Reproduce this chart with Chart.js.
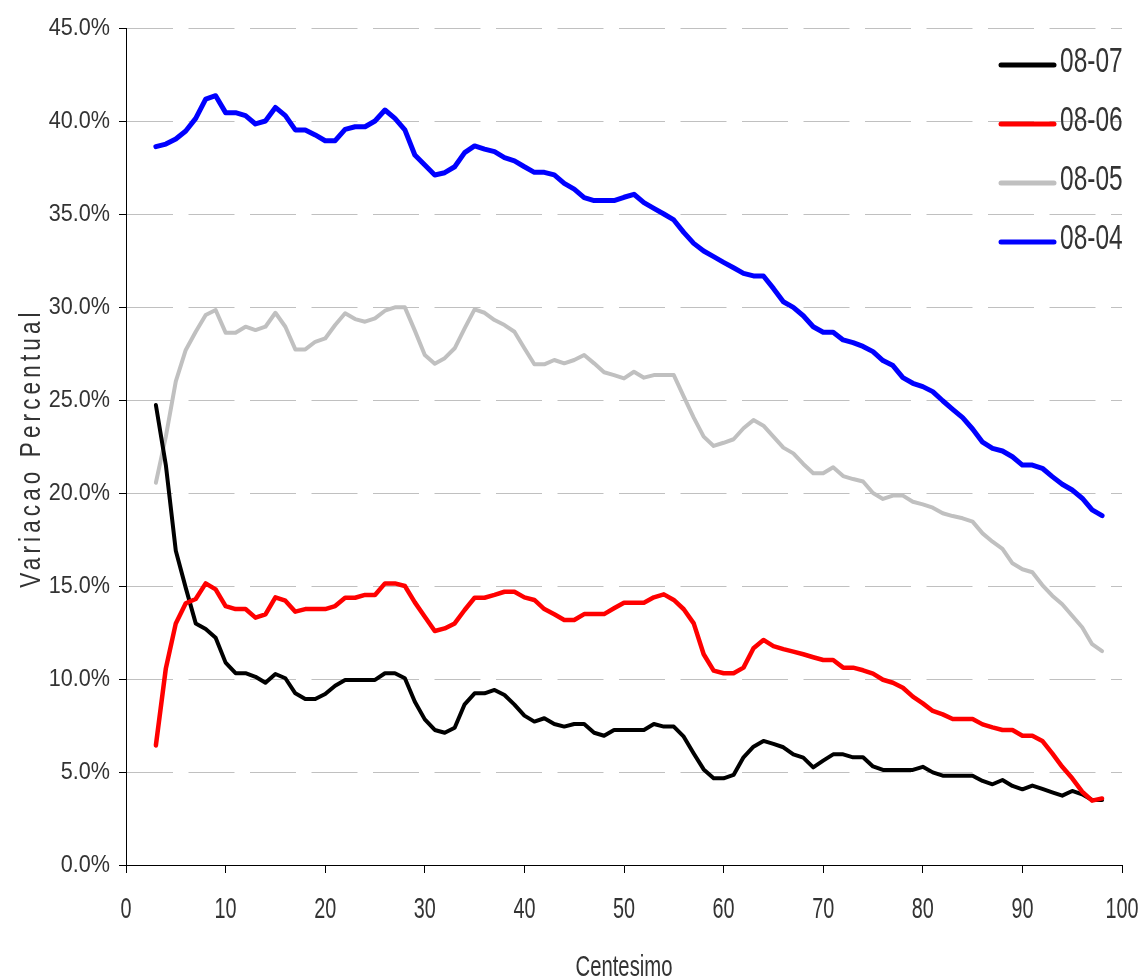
<!DOCTYPE html>
<html>
<head>
<meta charset="utf-8">
<script src="https://cdn.jsdelivr.net/npm/chart.js@4.4.1/dist/chart.umd.min.js"></script>
<style>
html,body{margin:0;padding:0;background:#ffffff;}
canvas{display:block;}
</style>
</head>
<body>
<canvas id="c" width="1144" height="980"></canvas>
<script>
// ---- data (values in %) ----
const centesimos = [3,4,5,6,7,8,9,10,11,12,13,14,15,16,17,18,19,20,21,22,23,24,25,26,27,28,29,30,31,32,33,34,35,36,37,38,39,40,41,42,43,44,45,46,47,48,49,50,51,52,53,54,55,56,57,58,59,60,61,62,63,64,65,66,67,68,69,70,71,72,73,74,75,76,77,78,79,80,81,82,83,84,85,86,87,88,89,90,91,92,93,94,95,96,97,98];

const serie0807 = [24.73,21.5,16.9,14.9,12.99,12.69,12.22,10.88,10.31,10.31,10.12,9.8,10.27,10.04,9.23,8.92,8.92,9.19,9.64,9.95,9.95,9.95,9.95,10.31,10.31,10.04,8.78,7.83,7.26,7.11,7.38,8.64,9.23,9.23,9.41,9.14,8.62,8.03,7.71,7.89,7.58,7.44,7.58,7.58,7.11,6.95,7.26,7.26,7.26,7.26,7.58,7.44,7.44,6.9,6.0,5.14,4.66,4.66,4.84,5.79,6.36,6.67,6.51,6.33,5.95,5.77,5.25,5.61,5.95,5.95,5.79,5.79,5.3,5.11,5.11,5.11,5.11,5.28,4.98,4.8,4.8,4.8,4.8,4.52,4.34,4.57,4.25,4.07,4.27,4.09,3.91,3.73,3.98,3.8,3.49,3.49];

const serie0806 = [6.43,10.57,12.99,14.07,14.3,15.14,14.82,13.92,13.76,13.76,13.3,13.48,14.39,14.21,13.62,13.76,13.76,13.76,13.92,14.37,14.37,14.52,14.52,15.14,15.14,15.0,14.12,13.35,12.58,12.72,12.99,13.71,14.37,14.37,14.52,14.69,14.69,14.39,14.25,13.76,13.48,13.17,13.17,13.49,13.49,13.49,13.8,14.1,14.1,14.1,14.39,14.55,14.25,13.75,12.99,11.33,10.45,10.31,10.31,10.61,11.65,12.1,11.77,11.61,11.47,11.33,11.17,11.02,11.02,10.61,10.61,10.47,10.29,9.96,9.8,9.53,9.05,8.69,8.28,8.1,7.85,7.85,7.85,7.56,7.4,7.26,7.26,6.95,6.95,6.67,6.0,5.28,4.66,3.94,3.46,3.58];

const serie0805 = [20.55,23.03,26.0,27.69,28.67,29.57,29.84,28.62,28.62,28.94,28.76,28.94,29.69,28.94,27.72,27.72,28.13,28.31,29.03,29.66,29.35,29.21,29.39,29.8,29.98,29.98,28.73,27.42,26.95,27.25,27.78,28.85,29.87,29.69,29.3,29.03,28.67,27.78,26.92,26.92,27.15,26.97,27.15,27.42,26.97,26.49,26.34,26.16,26.52,26.2,26.34,26.34,26.34,25.18,24.05,23.03,22.53,22.7,22.89,23.48,23.92,23.62,23.03,22.44,22.13,21.56,21.06,21.06,21.38,20.91,20.75,20.62,20.0,19.68,19.86,19.86,19.53,19.39,19.21,18.91,18.76,18.64,18.46,17.83,17.38,17.0,16.22,15.9,15.74,15.05,14.48,14.02,13.4,12.78,11.87,11.5];

const serie0804 = [38.62,38.76,39.03,39.46,40.14,41.18,41.36,40.45,40.45,40.29,39.84,40.0,40.73,40.29,39.52,39.52,39.25,38.94,38.94,39.55,39.69,39.69,40.0,40.59,40.14,39.52,38.17,37.63,37.1,37.22,37.54,38.3,38.66,38.49,38.35,38.03,37.86,37.54,37.24,37.24,37.1,36.65,36.34,35.88,35.72,35.72,35.72,35.9,36.06,35.61,35.3,35.0,34.68,34.01,33.42,33.01,32.71,32.4,32.11,31.81,31.67,31.67,31.0,30.28,29.98,29.53,28.94,28.64,28.64,28.23,28.08,27.88,27.6,27.12,26.85,26.2,25.9,25.72,25.45,24.96,24.5,24.05,23.44,22.73,22.4,22.26,21.95,21.5,21.5,21.33,20.88,20.47,20.16,19.72,19.09,18.78];

const seriesLabels = ['08-07','08-06','08-05','08-04'];
const xTickValues = [0,10,20,30,40,50,60,70,80,90,100];
const yTickValues = [0,5,10,15,20,25,30,35,40,45];
const xTitle = 'Centesimo';
const yTitle = 'Variacao Percentual';

// ---- styling ----
// font families carry a dummy marker "sqNN" = horizontal squash factor NN/100
const fam = n => "'Liberation Sans', sq" + n + ", Arial, sans-serif";
const TEXT = '#333333';
const styles = {
  '08-07': {color:'#000000', width:4,   order:1},
  '08-06': {color:'#ff0000', width:4.5, order:0},
  '08-05': {color:'#c0c0c0', width:4,   order:2},
  '08-04': {color:'#0000ff', width:5,   order:3}
};
const seriesValues = [serie0807, serie0806, serie0805, serie0804];

const datasets = seriesLabels.map((lab, i) => ({
  label: lab,
  data: centesimos.map((c, j) => ({x: c, y: seriesValues[i][j]})),
  borderColor: styles[lab].color,
  backgroundColor: styles[lab].color,
  borderWidth: styles[lab].width,
  pointRadius: 0,
  pointHoverRadius: 0,
  tension: 0,
  fill: false,
  borderJoinStyle: 'round',
  borderCapStyle: 'round',
  order: styles[lab].order
}));

// horizontal squash of text (reference text is condensed)
function installSquash(ctx) {
  if (ctx.__sq) return;
  ctx.__sq = true;
  const orig = ctx.fillText;
  ctx.fillText = function (text, x, y, maxWidth) {
    const m = /sq(\d+)/.exec(this.font);
    if (!m) {
      return maxWidth === undefined ? orig.call(this, text, x, y) : orig.call(this, text, x, y, maxWidth);
    }
    const sx = parseInt(m[1], 10) / 100;
    this.save();
    this.translate(x, y);
    this.scale(sx, 1);
    orig.call(this, text, 0, 0);
    this.restore();
  };
}

const overlayPlugin = {
  id: 'overlay',
  beforeInit(chart) { installSquash(chart.ctx); },
  afterDraw(chart) {
    const ctx = chart.ctx;
    ctx.save();
    seriesLabels.forEach((lab, i) => {
      const ds = chart.data.datasets.find(d => d.label === lab);
      const y = 65 + 59 * i;
      ctx.strokeStyle = ds.borderColor;
      ctx.lineWidth = 5;
      ctx.lineCap = 'round';
      ctx.beginPath();
      ctx.moveTo(1001, y);
      ctx.lineTo(1054, y);
      ctx.stroke();
      ctx.fillStyle = TEXT;
      ctx.font = '35px ' + fam(70);
      ctx.textAlign = 'left';
      ctx.textBaseline = 'middle';
      ctx.fillText(lab, 1060, y - 3);
    });
    ctx.restore();
    // y axis title (rotated, condensed, spaced)
    ctx.save();
    ctx.translate(40, 448);
    ctx.rotate(-Math.PI / 2);
    ctx.scale(0.75, 1);
    if ('letterSpacing' in ctx) ctx.letterSpacing = '5.5px';
    ctx.font = '30px ' + "'Liberation Sans', Arial, sans-serif";
    ctx.fillStyle = TEXT;
    ctx.textAlign = 'center';
    ctx.textBaseline = 'alphabetic';
    ctx.fillText(yTitle, 0, 0);
    ctx.restore();
  }
};

new Chart(document.getElementById('c'), {
  type: 'line',
  data: {datasets},
  plugins: [overlayPlugin],
  options: {
    responsive: false,
    animation: false,
    events: [],
    layout: {padding: {top: 28, right: 22, left: 0, bottom: 0}},
    plugins: {legend: {display: false}, tooltip: {enabled: false}, title: {display: false}},
    scales: {
      x: {
        type: 'linear',
        min: 0, max: 100,
        afterBuildTicks: s => { s.ticks = xTickValues.map(v => ({value: v})); },
        afterFit: s => { s.height = 115; s.paddingLeft = 0; s.paddingRight = 0; },
        grid: {display: true, drawOnChartArea: false, drawTicks: true, tickLength: 8, tickColor: '#000000', color: '#000000'},
        border: {display: true, color: '#000000', width: 1},
        ticks: {color: TEXT, font: {family: fam(66), size: 30}, padding: 19, maxRotation: 0, autoSkip: false},
        title: {display: true, text: xTitle, color: TEXT, font: {family: fam(70), size: 29, lineHeight: 0.8}, padding: {top: 0, bottom: 0}}
      },
      y: {
        type: 'linear',
        min: 0, max: 45,
        afterBuildTicks: s => { s.ticks = yTickValues.map(v => ({value: v})); },
        afterFit: s => { s.width = 126; s.paddingTop = 0; s.paddingBottom = 0; },
        grid: {display: true, color: '#c0c0c0', lineWidth: 1, drawTicks: true, tickLength: 7, tickColor: '#000000'},
        border: {display: true, color: '#000000', width: 1, dash: [46, 15.5]},
        ticks: {color: TEXT, font: {family: fam(90), size: 24}, padding: 9, callback: v => v.toFixed(1) + '%'}
      }
    }
  }
});
</script>
</body>
</html>
